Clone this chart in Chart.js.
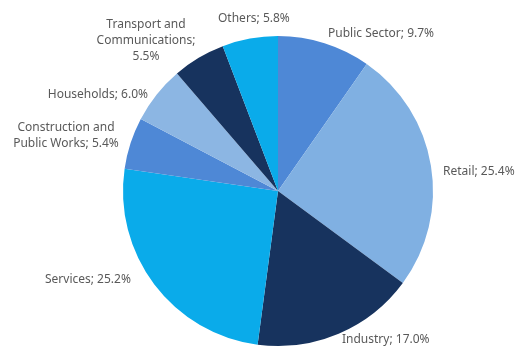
<!DOCTYPE html>
<html>
<head>
<meta charset="utf-8">
<script src="https://cdn.jsdelivr.net/npm/chart.js@4/dist/chart.umd.min.js"></script>
<style>
  html, body { margin: 0; padding: 0; background: #fff; }
  #wrap { width: 520px; height: 351px; position: relative; }
</style>
</head>
<body>
<div id="wrap"><canvas id="pie"></canvas></div>
<script>
// sectors, clockwise from 12 o'clock
const sectors = ["Public Sector", "Retail", "Industry", "Services", "Construction and Public Works", "Households", "Transport and Communications", "Others"];
const shares = [9.7, 25.4, 17.0, 25.2, 5.4, 6.0, 5.5, 5.8];
const sliceColors = ["#4e88d6", "#80b0e2", "#17335e", "#0aabea", "#4e88d6", "#8cb6e3", "#17335e", "#0aabea"];

// label text lines and where they sit (x, y of first line, alignment)
const labelLines = [
  ["Public Sector; 9.7%"],
  ["Retail; 25.4%"],
  ["Industry; 17.0%"],
  ["Services; 25.2%"],
  ["Construction and", "Public Works; 5.4%"],
  ["Households; 6.0%"],
  ["Transport and", "Communications;", "5.5%"],
  ["Others; 5.8%"],
];
const labelLayout = [
  { x: 328, y: 34, align: "left" },
  { x: 443, y: 172, align: "left" },
  { x: 342, y: 340, align: "left" },
  { x: 45, y: 280, align: "left" },
  { x: 66, y: 128, align: "center" },
  { x: 148, y: 95, align: "right" },
  { x: 146, y: 25, align: "center" },
  { x: 218, y: 19, align: "left" },
];

const pieLabels = {
  id: "pieLabels",
  afterDraw(chart) {
    const c = chart.ctx;
    c.save();
    c.fillStyle = "#595959";
    c.font = "12px 'Noto Sans'";
    c.textBaseline = "middle";
    labelLines.forEach((lines, i) => {
      const p = labelLayout[i];
      c.textAlign = p.align;
      lines.forEach((t, j) => c.fillText(t, p.x, p.y + j * 16));
    });
    c.restore();
  },
};

new Chart(document.getElementById("pie"), {
  type: "pie",
  data: {
    labels: sectors,
    datasets: [{ data: shares, backgroundColor: sliceColors, borderWidth: 0 }],
  },
  options: {
    responsive: true,
    maintainAspectRatio: false,
    animation: false,
    layout: { padding: { left: 123, right: 87, top: 36, bottom: 5 } },
    plugins: { legend: { display: false }, tooltip: { enabled: false } },
  },
  plugins: [pieLabels],
});
</script>
</body>
</html>
